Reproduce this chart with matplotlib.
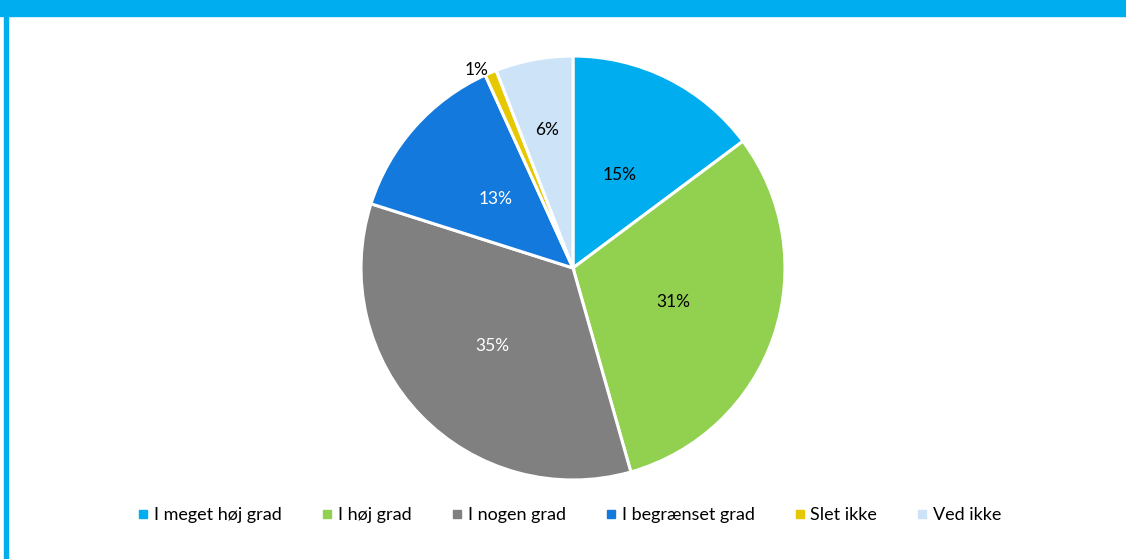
import matplotlib.pyplot as plt
from matplotlib.patches import Rectangle
from matplotlib.lines import Line2D
import numpy as np

categories = ["I meget høj grad", "I høj grad", "I nogen grad",
              "I begrænset grad", "Slet ikke", "Ved ikke"]
values = [14.8, 30.8, 34.3, 13.3, 0.9, 5.9]
pct_labels = ["15%", "31%", "35%", "13%", "1%", "6%"]
colors = ["#00ADEF", "#92D050", "#808080", "#1479DC", "#E6C800", "#CCE3F8"]
text_colors = ["black", "black", "white", "white", "black", "black"]
label_r = [0.49, 0.5, 0.53, 0.49, 1.04, 0.66]

plt.rcParams["font.family"] = ["Lato", "DejaVu Sans"]

W, H = 1126, 559
fig = plt.figure(figsize=(W / 100, H / 100), dpi=100)

# frame decoration
fig.patches.append(Rectangle((0, (H - 16) / H), 1, 16 / H, transform=fig.transFigure,
                             color="#00ADEF", zorder=0))
fig.patches.append(Rectangle((4 / W, 0), 4 / W, 1, transform=fig.transFigure,
                             color="#00ADEF", zorder=0))

cx, cy, r = 573, 268, 212
ax = fig.add_axes([(cx - r) / W, (H - cy - r) / H, 2 * r / W, 2 * r / H])
wedges, _ = ax.pie(values, colors=colors, startangle=90, counterclock=False,
                   wedgeprops=dict(edgecolor="white", linewidth=2.2))
ax.set_xlim(-1, 1)
ax.set_ylim(-1, 1)
ax.set_aspect("equal")
ax.axis("off")

for i, (w, lab, tc, rr) in enumerate(zip(wedges, pct_labels, text_colors, label_r)):
    mid = np.deg2rad((w.theta1 + w.theta2) / 2)
    if i == 4:
        mid += np.deg2rad(3)
    ax.text(rr * np.cos(mid), rr * np.sin(mid), lab, color=tc, fontsize=12.5,
            ha="center", va="center")

handles = [Line2D([], [], marker="s", linestyle="none", markersize=6,
                  markerfacecolor=c, markeredgecolor=c) for c in colors]
fig.legend(handles, categories, loc="center", bbox_to_anchor=(568 / W, (H - 515) / H),
           ncol=6, frameon=False, fontsize=13, handletextpad=0.1,
           columnspacing=2.0, handlelength=1.0)

fig.savefig("out.png", dpi=100)
